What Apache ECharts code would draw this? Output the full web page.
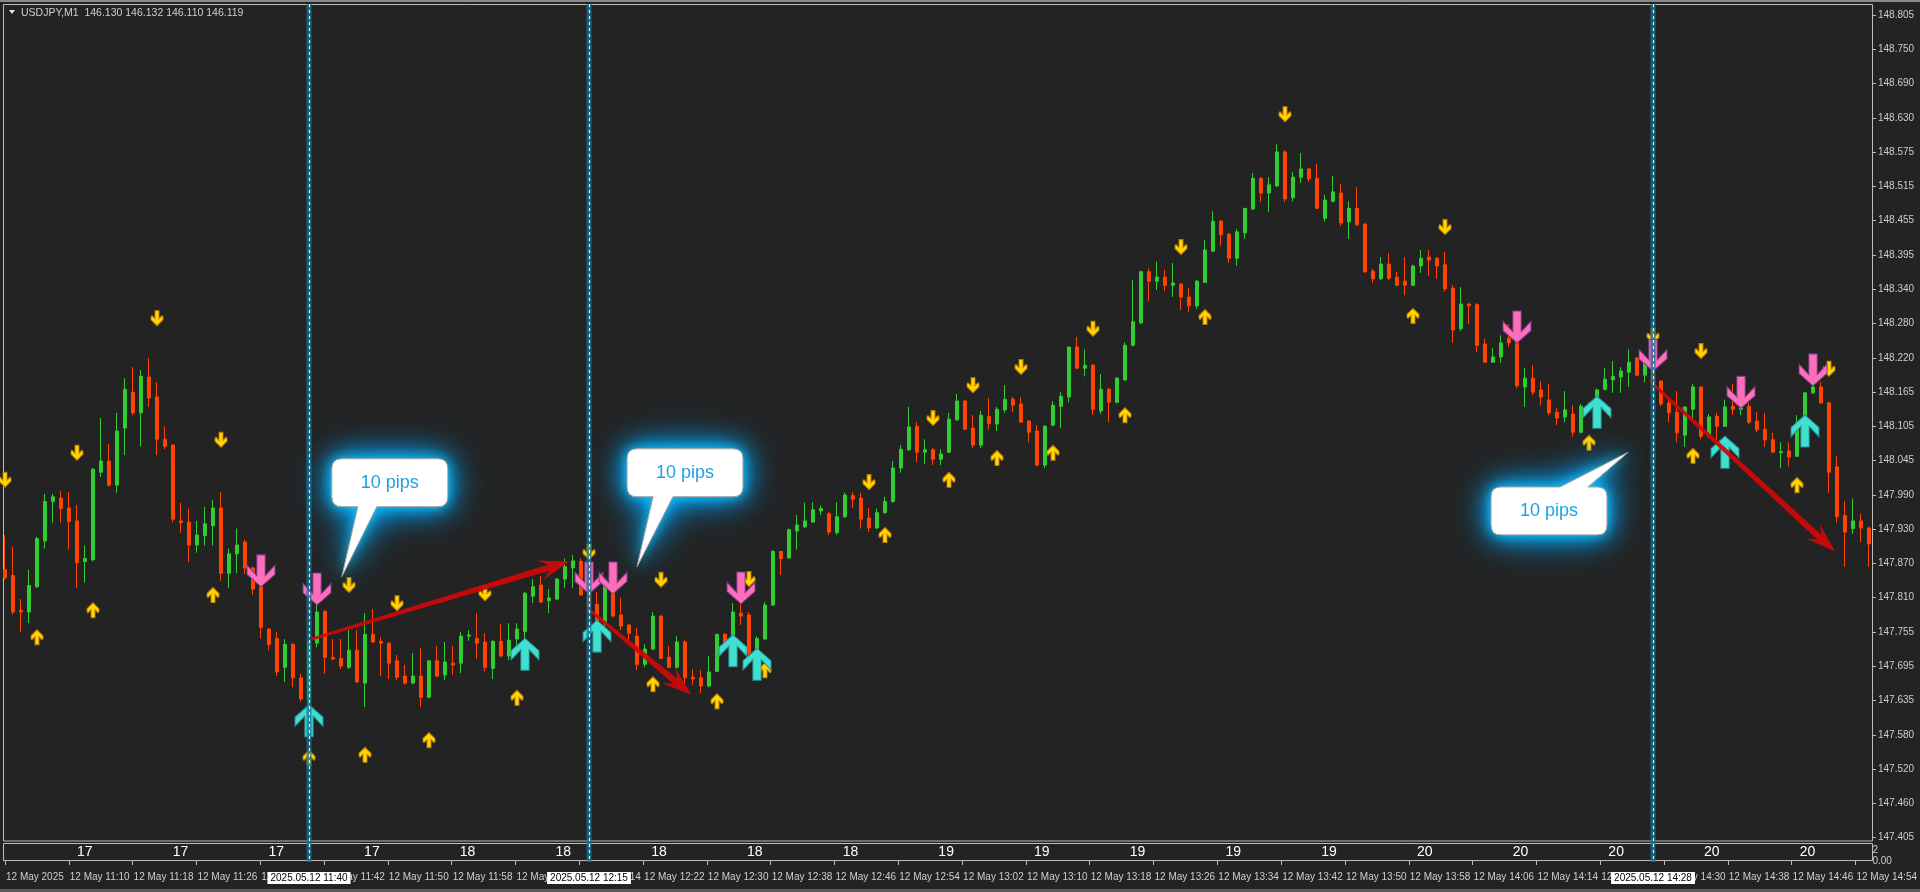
<!DOCTYPE html>
<html>
<head>
<meta charset="utf-8">
<title>USDJPY,M1</title>
<script src="https://cdn.jsdelivr.net/npm/echarts@6.0.0/dist/echarts.min.js"></script>
<style>
html,body{margin:0;padding:0;background:#232323;overflow:hidden;}
#chart{width:1920px;height:892px;}
</style>
</head>
<body>
<div id="chart"></div>
<script>
// ---------------- categories (one bar per minute, 12 May 2025) ----------------
const startMinute = 11 * 60 + 2;
const barCount = 234;
const times = [];
for (let i = 0; i < barCount; i++) {
  const m = startMinute + i;
  times.push(String(Math.floor(m / 60)).padStart(2, '0') + ':' + String(m % 60).padStart(2, '0'));
}

// ---------------- OHLC ----------------
const opens = [
147.861,147.851,147.792,147.789,147.832,147.910,147.977,147.983,147.966,147.944,
147.875,147.878,148.027,148.046,148.005,148.102,148.163,148.128,148.189,148.155,
148.083,148.073,147.944,147.942,147.903,147.919,147.936,147.966,147.855,147.888,
147.908,147.864,147.832,147.760,147.744,147.695,147.734,147.677,147.641,147.736,
147.790,147.712,147.710,147.695,147.724,147.668,147.751,147.739,147.736,147.706,
147.680,147.668,147.680,147.644,147.706,147.682,147.702,147.702,147.748,147.744,
147.738,147.693,147.739,147.714,147.743,147.756,147.816,147.835,147.808,147.811,
147.845,147.864,147.875,147.819,147.802,147.770,147.832,147.784,147.767,147.748,
147.700,147.726,147.782,147.712,147.695,147.738,147.678,147.677,147.663,147.688,
147.751,147.733,147.787,147.784,147.717,147.743,147.801,147.892,147.881,147.927,
147.934,147.942,147.961,147.956,147.924,147.951,147.987,147.983,147.949,147.932,
147.958,147.977,148.034,148.065,148.105,148.061,148.065,148.049,148.061,148.116,
148.148,148.102,148.073,148.122,148.109,148.133,148.151,148.143,148.114,148.097,
148.039,148.107,148.139,148.155,148.240,148.204,148.209,148.131,148.168,148.146,
148.184,148.243,148.281,148.368,148.352,148.359,148.345,148.347,148.325,148.310,
148.350,148.403,148.454,148.432,148.391,148.434,148.475,148.527,148.502,148.514,
148.572,148.494,148.529,148.543,148.527,148.459,148.488,148.502,148.453,148.476,
148.449,148.369,148.356,148.381,148.359,148.352,148.345,148.378,148.393,148.391,
148.380,148.340,148.271,148.313,148.312,148.245,148.214,148.223,148.255,148.250,
148.172,148.187,148.167,148.150,148.129,148.121,148.126,148.095,148.138,148.139,
148.168,148.184,148.189,148.197,148.221,148.192,148.214,148.182,148.145,148.129,
148.090,148.134,148.172,148.088,148.122,148.105,148.139,148.134,148.139,148.114,
148.100,148.082,148.060,148.063,148.054,148.109,148.162,148.172,148.145,148.036,
147.953,147.931,147.944,147.932
];
const closes = [
147.847,147.789,147.789,147.834,147.914,147.977,147.985,147.965,147.943,147.873,
147.880,148.032,148.046,148.005,148.097,148.168,148.128,148.190,148.153,148.083,
148.071,147.947,147.941,147.903,147.920,147.939,147.966,147.855,147.888,147.903,
147.864,147.828,147.763,147.734,147.687,147.734,147.677,147.641,147.738,147.789,
147.712,147.709,147.697,147.724,147.670,147.751,147.738,147.736,147.702,147.678,
147.668,147.680,147.644,147.706,147.680,147.704,147.699,147.748,147.750,147.736,
147.695,147.739,147.714,147.741,147.760,147.821,147.832,147.806,147.813,147.845,
147.866,147.876,147.818,147.799,147.770,147.835,147.782,147.765,147.753,147.700,
147.726,147.782,147.710,147.695,147.738,147.677,147.675,147.663,147.687,147.751,
147.733,147.789,147.782,147.719,147.744,147.801,147.892,147.880,147.929,147.937,
147.944,147.963,147.965,147.925,147.951,147.988,147.981,147.947,147.932,147.958,
147.977,148.034,148.066,148.104,148.061,148.065,148.049,148.058,148.117,148.148,
148.100,148.073,148.124,148.110,148.134,148.151,148.141,148.112,148.095,148.039,
148.105,148.141,148.156,148.240,148.204,148.209,148.134,148.168,148.146,148.187,
148.243,148.283,148.368,148.352,148.359,148.345,148.349,148.325,148.310,148.352,
148.405,148.454,148.431,148.391,148.436,148.476,148.527,148.502,148.516,148.572,
148.492,148.529,148.543,148.526,148.476,148.490,148.504,148.451,148.476,148.448,
148.368,148.356,148.381,148.357,148.345,148.345,148.378,148.391,148.388,148.378,
148.339,148.269,148.313,148.310,148.243,148.214,148.223,148.247,148.247,148.174,
148.187,148.163,148.155,148.128,148.119,148.133,148.095,148.139,148.141,148.167,
148.185,148.190,148.199,148.214,148.192,148.214,148.179,148.143,148.128,148.094,
148.138,148.172,148.088,148.121,148.105,148.138,148.134,148.139,148.112,148.099,
148.082,148.061,148.062,148.053,148.111,148.162,148.172,148.145,148.027,147.951,
147.925,147.944,147.932,147.905
];
const lows = [
147.844,147.785,147.755,147.770,147.830,147.897,147.941,147.941,147.895,147.830,
147.839,147.875,148.019,148.002,147.992,148.056,148.124,148.071,148.138,148.056,
148.066,147.942,147.924,147.874,147.890,147.902,147.902,147.842,147.830,147.855,
147.854,147.818,147.744,147.724,147.680,147.670,147.661,147.637,147.628,147.729,
147.684,147.707,147.692,147.692,147.668,147.627,147.736,147.680,147.675,147.673,
147.665,147.666,147.627,147.642,147.678,147.673,147.682,147.685,147.740,147.709,
147.688,147.675,147.712,147.707,147.724,147.728,147.804,147.804,147.787,147.809,
147.830,147.830,147.816,147.789,147.760,147.760,147.780,147.758,147.736,147.690,
147.695,147.724,147.709,147.693,147.693,147.665,147.665,147.651,147.661,147.687,
147.728,147.731,147.767,147.710,147.710,147.741,147.799,147.852,147.880,147.895,
147.932,147.941,147.954,147.920,147.920,147.949,147.966,147.931,147.925,147.930,
147.956,147.975,148.026,148.063,148.044,148.041,148.039,148.039,148.060,148.114,
148.099,148.068,148.068,148.099,148.097,148.128,148.129,148.111,148.078,148.037,
148.034,148.105,148.102,148.146,148.203,148.190,148.124,148.126,148.112,148.144,
148.182,148.241,148.279,148.318,148.337,148.335,148.325,148.303,148.300,148.305,
148.349,148.402,148.412,148.383,148.378,148.424,148.473,148.487,148.470,148.512,
148.487,148.488,148.519,148.521,148.475,148.453,148.486,148.446,148.424,148.446,
148.366,148.349,148.354,148.354,148.344,148.328,148.344,148.366,148.361,148.356,
148.334,148.247,148.267,148.279,148.231,148.213,148.213,148.213,148.240,148.170,
148.138,148.158,148.140,148.124,148.107,148.112,148.087,148.093,148.128,148.138,
148.166,148.162,148.162,148.172,148.190,148.180,148.175,148.139,148.112,148.078,
148.070,148.116,148.083,148.085,148.082,148.104,148.124,148.124,148.109,148.095,
148.070,148.060,148.034,148.037,148.053,148.107,148.160,148.143,147.992,147.941,
147.866,147.922,147.908,147.866
];
const highs = [
147.920,147.900,147.811,147.861,147.917,147.990,147.990,147.995,147.993,147.971,
147.902,148.034,148.119,148.075,148.128,148.187,148.206,148.201,148.221,148.180,
148.105,148.075,147.975,147.965,147.944,147.968,147.980,147.993,147.897,147.931,
147.912,147.866,147.845,147.762,147.755,147.743,147.736,147.684,147.740,147.813,
147.792,147.743,147.743,147.758,147.758,147.787,147.794,147.746,147.738,147.716,
147.699,147.719,147.728,147.706,147.731,147.738,147.731,147.755,147.758,147.787,
147.753,147.741,147.768,147.770,147.770,147.823,147.845,147.850,147.828,147.847,
147.880,147.886,147.880,147.826,147.823,147.840,147.834,147.813,147.768,147.762,
147.734,147.789,147.784,147.731,147.748,147.741,147.692,147.690,147.714,147.751,
147.753,147.804,147.814,147.789,147.748,147.806,147.894,147.893,147.931,147.954,
147.975,147.976,147.970,147.959,147.976,147.992,147.993,147.992,147.966,147.965,
147.985,148.046,148.073,148.138,148.112,148.083,148.068,148.066,148.128,148.160,
148.150,148.124,148.131,148.153,148.138,148.175,148.155,148.155,148.116,148.107,
148.107,148.148,148.163,148.240,148.257,148.236,148.211,148.194,148.170,148.189,
148.248,148.354,148.370,148.374,148.385,148.371,148.383,148.349,148.340,148.354,
148.422,148.471,148.456,148.434,148.441,148.476,148.536,148.529,148.529,148.585,
148.575,148.538,148.570,148.545,148.552,148.499,148.531,148.517,148.488,148.512,
148.451,148.373,148.393,148.400,148.368,148.393,148.380,148.405,148.405,148.393,
148.402,148.345,148.342,148.315,148.315,148.254,148.238,148.260,148.279,148.260,
148.204,148.209,148.182,148.177,148.136,148.165,148.141,148.143,148.146,148.169,
148.204,148.216,148.206,148.236,148.223,148.223,148.252,148.184,148.155,148.165,
148.138,148.177,148.173,148.126,148.128,148.150,148.177,148.150,148.145,148.129,
148.128,148.094,148.078,148.078,148.124,148.162,148.187,148.180,148.146,148.054,
147.978,147.982,147.956,147.934
];

// ---------------- price scale labels (as printed on the right) ----------------
const priceLabels = ['147.405','147.460','147.520','147.580','147.635','147.695','147.755','147.810',
  '147.870','147.930','147.990','148.045','148.105','148.165','148.220','148.280','148.340','148.395',
  '148.455','148.515','148.575','148.630','148.690','148.750','148.805'];
const scaleLow = 147.405, scaleHigh = 148.805;
const viewMin = 147.3993, viewMax = 148.8237;

// ---------------- indicator arrows ----------------
const yellowDownIdx = [0,9,19,27,43,49,60,73,82,93,108,116,121,127,136,147,160,180,206,212,228];
const yellowDownPrice = [148.014,148.060,148.289,148.082,147.835,147.804,147.821,147.891,147.844,147.845,
  148.010,148.119,148.175,148.206,148.271,148.410,148.636,148.444,148.259,148.233,148.203];
const yellowUpIdx = [4,11,26,38,45,53,64,81,89,95,110,118,124,131,140,150,176,198,211,224];
const yellowUpPrice = [147.746,147.792,147.818,147.541,147.546,147.571,147.643,147.666,147.637,147.690,
  147.920,148.014,148.051,148.060,148.124,148.291,148.293,148.077,148.055,148.005];
const pinkIdx = [32,39,73,76,92,189,206,217,226];
const pinkPrice = [147.859,147.828,147.847,147.847,147.830,148.274,148.226,148.163,148.201];
const cyanIdx = [38,65,74,91,94,199,215,225];
const cyanPrice = [147.604,147.717,147.748,147.723,147.700,148.129,148.061,148.097];

// ---------------- drawn objects ----------------
const vLineIdx = [38, 73, 206];
const redArrowFrom = [[38.34, 147.743], [73.1, 147.792], [205.7, 148.181]];
const redArrowTo = [[70.54, 147.875], [85.84, 147.648], [228.75, 147.892]];
const calloutText = ['10 pips', '10 pips', '10 pips'];
const calloutBox = [[48.1, 148.009], [85.0, 148.026], [193.0, 147.961]];
const calloutTip = [[42.1, 147.849], [79.0, 147.866], [202.9, 148.061]];

// ---------------- sub window values ----------------
const subIdx = [10,22,34,46,58,70,82,94,106,118,130,142,154,166,178,190,202,214,226];
const subValues = [17,17,17,17,18,18,18,18,18,19,19,19,19,19,20,20,20,20,20];

const headerText = 'USDJPY,M1  146.130 146.132 146.110 146.119';

// ================= styling / build =================
const FONT = '"Liberation Sans", Arial, sans-serif';
const candleData = opens.map((o, i) => [o, closes[i], lows[i], highs[i]]);
const scaleStep = (scaleHigh - scaleLow) / (priceLabels.length - 1);
const tickValues = priceLabels.map((_, k) => scaleLow + k * scaleStep);

const arrowSmallDown = 'path://M4 0L8 0L8 8L11 5L12 6L12 9L6 15L0 9L0 6L1 5L4 8Z';
const arrowSmallUp = 'path://M4 15L8 15L8 7L11 10L12 9L12 6L6 0L0 6L0 9L1 10L4 7Z';
const arrowBigDown = 'path://M9.5 0L17.5 0L17.5 20L27 10L27 19L13.5 31L0 19L0 10L9.5 20Z';
const arrowBigUp = 'path://M9.5 31L17.5 31L17.5 11L27 21L27 12L13.5 0L0 12L0 21L9.5 11Z';

function pxAt(api, p) {
  const i0 = Math.floor(p[0]);
  const a = api.coord([i0, p[1]]);
  const b = api.coord([i0 + 1, p[1]]);
  return [a[0] + (p[0] - i0) * (b[0] - a[0]), a[1]];
}

const calloutTail = [[-32, -13], [-32, -12], [11, 39]];

function calloutPath(c, t, tb) {
  const w = 116, h = 48, r = 10;
  const x0 = c[0] - w / 2, x1 = c[0] + w / 2, y0 = c[1] - h / 2, y1 = c[1] + h / 2;
  const b1 = c[0] + tb[0], b2 = c[0] + tb[1];
  if (t[1] > y1) {
    return `M${x0 + r} ${y0} L${x1 - r} ${y0} Q${x1} ${y0} ${x1} ${y0 + r} L${x1} ${y1 - r} Q${x1} ${y1} ${x1 - r} ${y1} ` +
      `L${b2} ${y1} L${t[0]} ${t[1]} L${b1} ${y1} L${x0 + r} ${y1} Q${x0} ${y1} ${x0} ${y1 - r} L${x0} ${y0 + r} Q${x0} ${y0} ${x0 + r} ${y0} Z`;
  }
  return `M${x0 + r} ${y0} L${b1} ${y0} L${t[0]} ${t[1]} L${b2} ${y0} L${x1 - r} ${y0} Q${x1} ${y0} ${x1} ${y0 + r} L${x1} ${y1 - r} ` +
    `Q${x1} ${y1} ${x1 - r} ${y1} L${x0 + r} ${y1} Q${x0} ${y1} ${x0} ${y1 - r} L${x0} ${y0 + r} Q${x0} ${y0} ${x0 + r} ${y0} Z`;
}

const chart = echarts.init(document.getElementById('chart'), null, { renderer: 'canvas' });

const option = {
  animation: false,
  backgroundColor: '#232323',
  grid: [
    { left: 1, top: 4, width: 1872, height: 837 },
    { left: 1, top: 843, width: 1872, height: 18 }
  ],
  xAxis: [
    { type: 'category', gridIndex: 0, data: times, boundaryGap: true,
      axisLine: { show: false }, axisTick: { show: false }, axisLabel: { show: false }, splitLine: { show: false } },
    { type: 'category', gridIndex: 1, data: times, boundaryGap: true,
      axisLine: { show: false },
      axisTick: { show: true, alignWithLabel: true, length: 4, interval: (i) => i % 8 === 0, lineStyle: { color: '#bdbdbd' } },
      axisLabel: { show: true, interval: (i) => i % 8 === 0, align: 'left', margin: 11, padding: [0, 0, 0, 1],
        color: '#cfcfcf', fontSize: 10, fontFamily: FONT,
        formatter: (v, i) => i === 0 ? '12 May 2025' : '12 May ' + v },
      splitLine: { show: false } }
  ],
  yAxis: [
    { type: 'value', gridIndex: 0, position: 'right', min: viewMin, max: viewMax, scale: true,
      axisLine: { show: false }, splitLine: { show: false },
      axisTick: { show: true, length: 3, customValues: tickValues, lineStyle: { color: '#bdbdbd' } },
      axisLabel: { show: true, customValues: tickValues, margin: 5, color: '#c9ced4', fontSize: 10, fontFamily: FONT,
        formatter: (v) => priceLabels[Math.round((v - scaleLow) / scaleStep)] } },
    { type: 'value', gridIndex: 1, position: 'right', min: 0, max: 2,
      axisLine: { show: false }, splitLine: { show: false },
      axisTick: { show: false },
      axisLabel: { show: true, customValues: [0, 1.2], margin: 5, color: '#c9ced4', fontSize: 10, fontFamily: FONT,
        formatter: (v) => v > 0.5 ? '2' : '0.00' } }
  ],
  graphic: [
    { type: 'rect', shape: { x: 0, y: 0, width: 1920, height: 2 }, style: { fill: '#8a8a8a' }, silent: true },
    { type: 'rect', shape: { x: 0, y: 889, width: 1920, height: 3 }, style: { fill: '#5a5a5a' }, silent: true },
    { type: 'rect', shape: { x: 3.5, y: 4.5, width: 1869, height: 836.5 }, style: { fill: 'none', stroke: '#bdbdbd', lineWidth: 1 }, silent: true },
    { type: 'rect', shape: { x: 3.5, y: 843.5, width: 1869, height: 17 }, style: { fill: 'none', stroke: '#bdbdbd', lineWidth: 1 }, silent: true },
    { type: 'polygon', shape: { points: [[9, 10], [15, 10], [12, 14]] }, style: { fill: '#e6e6e6' }, silent: true },
    { type: 'text', x: 21, y: 13, style: { text: headerText, fill: '#c9d0d8', font: '10.5px ' + FONT, verticalAlign: 'middle' }, silent: true }
  ],
  series: [
    { type: 'candlestick', xAxisIndex: 0, yAxisIndex: 0, data: candleData, barWidth: 4, z: 2, silent: true,
      itemStyle: { color: '#32cd32', color0: '#ff4500', borderColor: '#32cd32', borderColor0: '#ff4500', borderWidth: 1 } },
    { type: 'scatter', xAxisIndex: 0, yAxisIndex: 0, z: 3, silent: true,
      data: yellowDownIdx.map((x, k) => [x, yellowDownPrice[k]]),
      symbol: arrowSmallDown, symbolSize: [12, 15],
      itemStyle: { color: '#ffd600', borderColor: '#c07c00', borderWidth: 1, opacity: 1 } },
    { type: 'scatter', xAxisIndex: 0, yAxisIndex: 0, z: 3, silent: true,
      data: yellowUpIdx.map((x, k) => [x, yellowUpPrice[k]]),
      symbol: arrowSmallUp, symbolSize: [12, 15],
      itemStyle: { color: '#ffd600', borderColor: '#c07c00', borderWidth: 1, opacity: 1 } },
    { type: 'scatter', xAxisIndex: 0, yAxisIndex: 0, z: 4, silent: true,
      data: pinkIdx.map((x, k) => [x, pinkPrice[k]]),
      symbol: arrowBigDown, symbolSize: [28, 32],
      itemStyle: { color: '#ff6eb8', borderColor: '#7a3a8c', borderWidth: 1, opacity: 1 } },
    { type: 'scatter', xAxisIndex: 0, yAxisIndex: 0, z: 4, silent: true,
      data: cyanIdx.map((x, k) => [x, cyanPrice[k]]),
      symbol: arrowBigUp, symbolSize: [28, 32],
      itemStyle: { color: '#3fe0cf', borderColor: '#2a8c96', borderWidth: 1, opacity: 1 } },
    { type: 'custom', xAxisIndex: 0, yAxisIndex: 0, z: 5, silent: true,
      data: redArrowFrom.map((p) => [Math.round(p[0]), p[1]]),
      renderItem: (params, api) => {
        const k = params.dataIndex;
        const S = pxAt(api, redArrowFrom[k]);
        const T = pxAt(api, redArrowTo[k]);
        const dx = T[0] - S[0], dy = T[1] - S[1], L = Math.hypot(dx, dy);
        const ux = dx / L, uy = dy / L, nx = -uy, ny = ux;
        const h = 30, hw = 10, jw = 3.2, sw = 1.4;
        const J = [T[0] - ux * h * 0.72, T[1] - uy * h * 0.72];
        const B = [T[0] - ux * h, T[1] - uy * h];
        const pts = [
          [S[0] + nx * sw, S[1] + ny * sw], [J[0] + nx * jw, J[1] + ny * jw], [B[0] + nx * hw, B[1] + ny * hw], T,
          [B[0] - nx * hw, B[1] - ny * hw], [J[0] - nx * jw, J[1] - ny * jw], [S[0] - nx * sw, S[1] - ny * sw]
        ];
        return { type: 'polygon', shape: { points: pts }, style: { fill: 'rgba(204,8,8,0.94)' } };
      } },
    { type: 'custom', xAxisIndex: 0, yAxisIndex: 0, z: 6, silent: true,
      data: vLineIdx.map((i) => [i, 148.1]),
      renderItem: (params, api) => {
        const idx = vLineIdx[params.dataIndex];
        const x = Math.round(api.coord([idx, 148.1])[0]);
        const top = params.coordSys.y;
        const bottom = params.coordSys.y + params.coordSys.height + 21;
        return { type: 'group', children: [
          { type: 'rect', shape: { x: x - 2.5, y: top, width: 5, height: bottom - top }, style: { fill: 'rgba(28,118,152,0.78)' } },
          { type: 'line', shape: { x1: x + 0.5, y1: top, x2: x + 0.5, y2: bottom }, style: { stroke: '#ffffff', lineWidth: 1, lineDash: [3, 3] } },
          { type: 'text', x: x, y: bottom + 16, style: { text: '2025.05.12 ' + times[idx], fill: '#000000', backgroundColor: '#ffffff',
              padding: [1, 3, 1, 3], font: '10px ' + FONT, align: 'center', verticalAlign: 'middle', textAlign: 'center', textVerticalAlign: 'middle' } }
        ] };
      } },
    { type: 'custom', xAxisIndex: 0, yAxisIndex: 0, z: 7, silent: true,
      data: calloutBox.map((p) => [Math.round(p[0]), p[1]]),
      renderItem: (params, api) => {
        const k = params.dataIndex;
        const c = pxAt(api, calloutBox[k]);
        const t = pxAt(api, calloutTip[k]);
        const d = calloutPath(c, t, calloutTail[k]);
        return { type: 'group', children: [
          { type: 'path', shape: { pathData: d }, style: { fill: '#ffffff', shadowBlur: 40, shadowColor: 'rgba(0,160,255,1)' } },
          { type: 'path', shape: { pathData: d }, style: { fill: '#ffffff', shadowBlur: 26, shadowColor: 'rgba(0,175,255,1)' } },
          { type: 'path', shape: { pathData: d }, style: { fill: '#ffffff', shadowBlur: 12, shadowColor: 'rgba(20,200,255,1)' } },
          { type: 'path', shape: { pathData: d }, style: { fill: '#ffffff', stroke: '#9a9a9a', lineWidth: 1 } },
          { type: 'text', x: c[0], y: c[1], style: { text: calloutText[k], fill: '#1ea0e6', font: '18px ' + FONT,
              align: 'center', verticalAlign: 'middle', textAlign: 'center', textVerticalAlign: 'middle' } }
        ] };
      } },
    { type: 'custom', xAxisIndex: 1, yAxisIndex: 1, z: 3, silent: true,
      data: subIdx.map((x, k) => [x, 1, subValues[k]]),
      renderItem: (params, api) => {
        const k = params.dataIndex;
        const p = api.coord([subIdx[k], 1]);
        return { type: 'text', x: p[0], y: p[1], style: { text: String(subValues[k]), fill: '#ffffff',
          font: '14px "Liberation Sans Narrow", "Liberation Sans", Arial, sans-serif',
          align: 'center', verticalAlign: 'middle', textAlign: 'center', textVerticalAlign: 'middle' } };
      } }
  ]
};

chart.setOption(option);
</script>
</body>
</html>
